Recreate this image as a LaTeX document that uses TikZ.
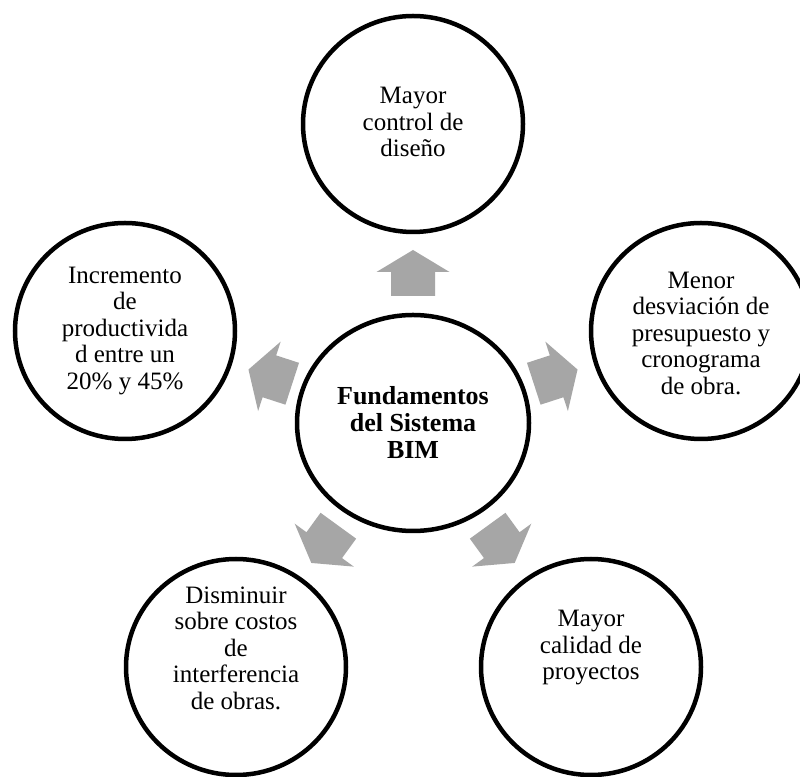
\documentclass[tikz,border=0pt]{standalone}
\usepackage{fontspec}
\setmainfont{Liberation Serif}
\usetikzlibrary{shapes.geometric}
\definecolor{arrowgray}{HTML}{A6A6A6}
\tikzset{
  bubble/.style={ellipse, draw=black, line width=4.5pt, fill=white,
    minimum width=220pt, minimum height=216pt, inner sep=0pt},
  hub/.style={bubble, minimum width=232pt, minimum height=216pt},
  bubbletext/.style={align=center, inner sep=0pt,
    font=\fontsize{25}{26.5}\selectfont},
  hubtext/.style={align=center, inner sep=0pt,
    font=\fontsize{26}{27}\selectfont\bfseries},
  blockarrow/.style={fill=arrowgray, draw=none}
}
% outward pointing block arrow, built pointing up and rotated about the hub
\newcommand{\outarrow}[1]{%
  \begin{scope}[shift={(hub.center)}, rotate=#1]
    \fill[blockarrow] (-22,127) -- (22,127) -- (22,151) -- (36.5,151)
      -- (0,173) -- (-36.5,151) -- (-22,151) -- cycle;
  \end{scope}}
\begin{document}
\begin{tikzpicture}[x=1pt, y=1pt]
  \useasboundingbox (0,0) rectangle (800,776);
  \clip (0,0) rectangle (800,776);
  \fill[white] (0,0) rectangle (800,776);

  % hub
  \node[hub] (hub) at (413,353) {};
  \node[hubtext] (hubtxt) at (hub.center) {Fundamentos\\del Sistema\\BIM};

  % surrounding bubbles
  \node[bubble] (top) at (413,652) {};
  \node[bubbletext] (toptxt) at (413,654) {Mayor\\control de\\diseño};

  \node[bubble] (right) at (701,445) {};
  \node[bubbletext] (righttxt) at (701,443) {Menor\\desviación de\\presupuesto y\\cronograma\\de obra.};

  \node[bubble] (left) at (125,445) {};
  \node[bubbletext] (lefttxt) at (125,445) {Incremento\\de\\productivida\\d entre un\\20\% y 45\%};

  \node[bubble] (botright) at (591,109) {};
  \node[bubbletext] (botrighttxt) at (591,128) {Mayor\\calidad de\\proyectos};

  \node[bubble] (botleft) at (236,109) {};
  \node[bubbletext] (botlefttxt) at (236,128) {Disminuir\\sobre costos\\de\\interferencia\\de obras.};

  % arrows from the hub toward each bubble
  \outarrow{0}
  \outarrow{-72}
  \outarrow{-144}
  \outarrow{144}
  \outarrow{72}
\end{tikzpicture}
\end{document}
